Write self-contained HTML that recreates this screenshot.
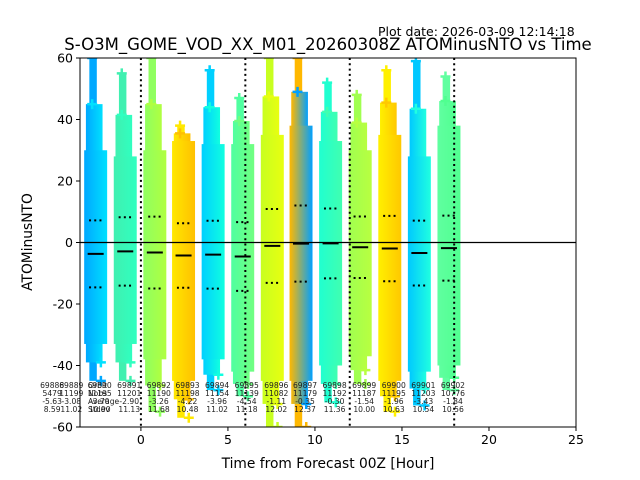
<!DOCTYPE html>
<html><head><meta charset="utf-8"><style>
body{margin:0;background:#fff}
svg{display:block;font-family:"DejaVu Sans","Liberation Sans",sans-serif}
</style></head><body>
<svg id="chart" width="640" height="480" viewBox="0 0 640 480">
<defs id="defs"></defs>
<text x="378" y="36" font-size="12.5">Plot date: 2026-03-09 12:14:18</text>
<text x="328" y="50" font-size="16.5" text-anchor="middle">S-O3M_GOME_VOD_XX_M01_20260308Z ATOMinusNTO vs Time</text>
<g id="marks"></g>
<g id="axes"></g>
<text x="328" y="468" font-size="13.8" text-anchor="middle">Time from Forecast 00Z [Hour]</text>
<text x="32" y="242" font-size="13.8" text-anchor="middle" transform="rotate(-90 32 242)">ATOMinusNTO</text>
</svg>
<script>
const centers=[-2.6,-0.9,0.8,2.45,4.15,5.85,7.55,9.2,10.9,12.6,14.3,16.0,17.7];
const orbits=["69890","69891","69892","69893","69894","69895","69896","69897","69898","69899","69900","69901","69902"];
const nobs=["11195","11201","11190","11198","11154","11139","11082","11179","11192","11187","11195","11203","10776"];
const means=[-3.70,-2.90,-3.26,-4.22,-3.96,-4.54,-1.11,-0.35,-0.30,-1.54,-1.96,-3.43,-1.84];
const stds=[10.90,11.13,11.68,10.48,11.02,11.18,12.02,12.37,11.36,10.00,10.63,10.54,10.56];
const maxs=[60,55,60,38,56,47,60,60,52,48,56,59,54];
const mins=[-45,-45,-55,-57,-48,-50,-60,-60,-52,-46,-55,-53,-48];
const coreHi=[30,28,30,33,32,32,35,38,33,30,35,28,38];
const coreLo=[-33,-33,-38,-45,-38,-42,-45,-45,-40,-37,-45,-42,-40];
const extraOrbits=["69888","69889"];
const extraNobs=["5479","11199"];
const extraMeans=["-5.63","-3.08"];
const extraStds=["8.59","11.02"];
const extraX=[-5.1,-4.0];
const xTicks=[0,5,10,15,20,25];
const yTicks=[-60,-40,-20,0,20,40,60];
const dividers=[0,6,12,18];
const colA=["#00a8ff","#40f0b0","#90ff60","#ffe800","#00d0ff","#50ffa0","#c8ff20","#ffb800","#20ffd0","#a0ff50","#fff000","#00c8ff","#60ffa0"];
const colB=["#00e0ff","#30ffc0","#b0ff40","#ffc000","#10ffe0","#70ff80","#e8ff10","#00a0ff","#40ffb0","#b8ff40","#ffc800","#20ffe0","#50ff90"];
const L=80,R=576,T=58,B=427,XMIN=-3.5,XMAX=25,YMIN=-60,YMAX=60;
const xs=v=>L+(v-XMIN)/(XMAX-XMIN)*(R-L);
const ys=v=>B-(v-YMIN)/(YMAX-YMIN)*(B-T);
const NS="http://www.w3.org/2000/svg";
function mk(tag,attrs,parent){const e=document.createElementNS(NS,tag);for(const k in attrs)e.setAttribute(k,attrs[k]);parent.appendChild(e);return e;}
const defs=document.getElementById('defs'),marks=document.getElementById('marks'),axes=document.getElementById('axes');
const clip=mk('clipPath',{id:'clip'},defs);mk('rect',{x:L,y:T,width:R-L,height:B-T},clip);
marks.setAttribute('clip-path','url(#clip)');
const hw=0.66;
centers.forEach((c,i)=>{
  const g=mk('linearGradient',{id:'g'+i,x1:0,x2:1,y1:0,y2:0},defs);
  mk('stop',{offset:'0','stop-color':colA[i]},g);mk('stop',{offset:'1','stop-color':colB[i]},g);
  const grp=mk('g',{},marks);
  
  
  const x0=xs(c-hw),x1=xs(c+hw);
  mk('rect',{x:xs(c-hw*0.55),y:ys(maxs[i]),width:xs(c+hw*0.1)-xs(c-hw*0.55),height:ys(mins[i])-ys(maxs[i]),fill:colA[i]},grp);
  const mh=(maxs[i]+coreHi[i])/2,ml2=(mins[i]+coreLo[i])/2;
  mk('rect',{x:xs(c-hw*0.85),y:ys(mh),width:xs(c+hw*0.6)-xs(c-hw*0.85),height:ys(ml2)-ys(mh),fill:'url(#g'+i+')'},grp);
  mk('rect',{x:x0,y:ys(coreHi[i]),width:x1-x0,height:ys(coreLo[i])-ys(coreHi[i]),fill:'url(#g'+i+')'},grp);
  [maxs[i],mins[i],mh,ml2].forEach((v,k)=>{
    const cx=xs(c+(k%2?0.3:-0.2)),cy=ys(v);
    mk('path',{d:`M${cx-5},${cy}h10M${cx},${cy-5}v10`,stroke:k<2?colA[i]:colB[i],'stroke-width':2.5},grp);
  });
  const ml=mk('line',{x1:xs(c-0.46),x2:xs(c+0.46),y1:ys(means[i]),y2:ys(means[i]),stroke:'#000','stroke-width':2},grp);
  
  
  [means[i]+stds[i],means[i]-stds[i]].forEach(v=>{
    const sl=mk('line',{x1:xs(c-0.38),x2:xs(c+0.38),y1:ys(v),y2:ys(v),stroke:'#000','stroke-width':2,'stroke-dasharray':'2,3.2'},grp);
    
    
  });
});
dividers.forEach(d=>{
  const l=mk('line',{x1:xs(d),x2:xs(d),y1:T,y2:B,stroke:'#000','stroke-width':2,'stroke-dasharray':'2,3.3'},marks);
  
  
});
const z=mk('line',{x1:L,x2:R,y1:ys(0),y2:ys(0),stroke:'#000','stroke-width':1.2},marks);


const st=mk('g',{'font-size':'7.6',fill:'#222','text-anchor':'middle'},axes);


function block(x,vals){vals.forEach((t,k)=>{mk('text',{x:x,y:388+k*8},st).textContent=t;});}
extraX.forEach((x,i)=>block(xs(x),[extraOrbits[i],extraNobs[i],extraMeans[i],extraStds[i]]));
centers.forEach((c,i)=>block(xs(c)+4,[orbits[i],nobs[i],means[i].toFixed(2),stds[i].toFixed(2)]));
const lb=mk('g',{'font-size':'7.6',fill:'#222'},axes);
["Orbit","Nobs","Average","Stdev"].forEach((t,k)=>{mk('text',{x:88,y:388+k*8},lb).textContent=t;});
mk('rect',{x:L,y:T,width:R-L,height:B-T,fill:'none',stroke:'#000','stroke-width':1},axes);
xTicks.forEach(v=>{
  mk('line',{x1:xs(v),x2:xs(v),y1:B,y2:B+4,stroke:'#000'},axes);
  const t=mk('text',{x:xs(v),y:B+17,'font-size':'12.5','text-anchor':'middle'},axes);t.textContent=v;
  
  
});
yTicks.forEach(v=>{
  mk('line',{x1:L-4,x2:L,y1:ys(v),y2:ys(v),stroke:'#000'},axes);
  const t=mk('text',{x:L-7,y:ys(v)+4.5,'font-size':'12.5','text-anchor':'end'},axes);t.textContent=v;
  
  
});
</script>
</body></html>
